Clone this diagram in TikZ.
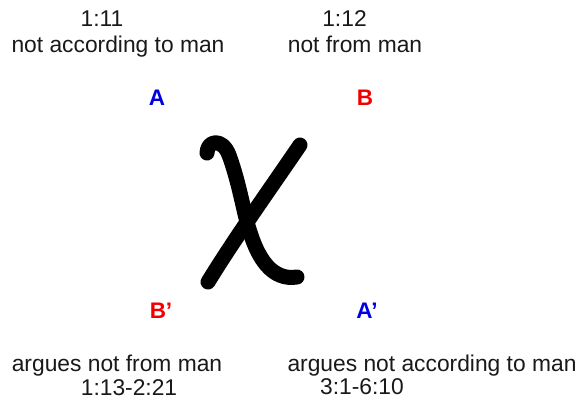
\documentclass[tikz,border=0pt]{standalone}
\usepackage{fontspec}
\setmainfont{Liberation Sans}
\definecolor{lblue}{RGB}{0,0,225}
\definecolor{lred}{RGB}{240,0,0}
\begin{document}
\begin{tikzpicture}[x=1pt,y=-1pt,
  txt/.style={anchor=base,inner sep=0pt,font=\fontsize{22.8}{27}\selectfont,text=black!90},
  lbl/.style={anchor=base,inner sep=0pt,font=\fontsize{22.5}{27}\selectfont\bfseries},
  chi/.style={line width=15pt,line cap=round,line join=round,draw=black}]
\useasboundingbox (0,0) rectangle (581,402);
% top texts
\node[txt] (t111) at (102,26) {1:11};
\node[txt] (tacc) at (118,52) {not according to man};
\node[txt] (t112) at (344.5,26) {1:12};
\node[txt] (tfrom) at (355,52) {not from man};
\node[lbl,text=lblue] (A) at (157,105) {A};
\node[lbl,text=lred] (B) at (365,105) {B};
% bottom texts
\node[lbl,text=lred] (Bp) at (161,318) {B’};
\node[lbl,text=lblue] (Ap) at (367,318) {A’};
\node[txt] (targf) at (117,371) {argues not from man};
\node[txt] (tr1) at (129,395) {1:13-2:21};
\node[txt] (targa) at (432,371) {argues not according to man};
\node[txt] (tr2) at (362,394) {3:1-6:10};
% chi
\draw[chi] (300,145) .. controls (270,189) and (235,238) .. (208,282);
\draw[chi] (207,153) .. controls (207,141) and (222,137) .. (229,155)
  .. controls (240,185) and (244,215) .. (250,232)
  .. controls (258,258) and (272,281) .. (297,277);
\end{tikzpicture}
\end{document}
